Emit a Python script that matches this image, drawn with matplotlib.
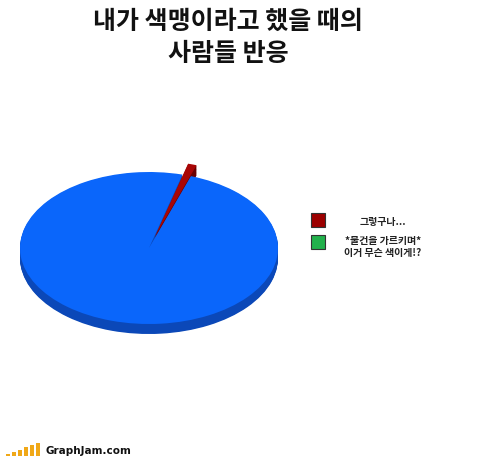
import numpy as np
import matplotlib.pyplot as plt
from matplotlib.patches import Rectangle

plt.rcParams['font.family'] = ['Noto Sans CJK KR', 'DejaVu Sans']

# data
title = "내가 색맹이라고 했을 때의\n사람들 반응"
labels = ["그렇구나...", "*물건을 가르키며*\n이거 무슨 색이게!?"]
values = [1.1, 98.9]
legend_colors = ["#9c0000", "#22b14c"]
top_colors = ["#a80606", "#0a66fb"]
side_colors = ["#6a0000", "#0b48b8"]
explode = [0.15, 0.0]

W, H = 500, 458
fig = plt.figure(figsize=(W / 100, H / 100), dpi=100)
fig.patch.set_facecolor("white")

# pie geometry in pixels
cx, cy, rx, ry, thick = 149, 248, 129, 76, 10
lim_x, lim_y = 1.15, 1.3
ax = fig.add_axes([(cx - lim_x * rx) / W, 1 - (cy + lim_y * ry) / H,
                   2 * lim_x * rx / W, 2 * lim_y * ry / H])
start = 73 - values[0] / sum(values) * 360 / 2

# side (stacked darker layers)
for d in np.linspace(thick / ry, 0, 14)[:-1]:
    ax.pie(values, colors=side_colors, explode=explode, startangle=start,
           center=(0, -d), wedgeprops=dict(linewidth=0))
ax.pie(values, colors=top_colors, explode=explode, startangle=start,
       center=(0, 0), wedgeprops=dict(linewidth=0))
ax.set_aspect("auto")
ax.set_xlim(-lim_x, lim_x)
ax.set_ylim(-lim_y, lim_y)
ax.axis("off")

# overlay axes in pixel coordinates for text
ov = fig.add_axes([0, 0, 1, 1])
ov.set_xlim(0, W)
ov.set_ylim(H, 0)
ov.axis("off")

ov.text(228, 38, title, ha="center", va="center", fontsize=18,
        fontweight="bold", linespacing=1.4, color="#111111")

# legend
for i, (lab, col) in enumerate(zip(labels, legend_colors)):
    y = 220 + i * 22
    ov.add_patch(Rectangle((311, y - 7), 14, 14, facecolor=col,
                           edgecolor="#333333", linewidth=0.8))
    ty = 222 if i == 0 else 247
    ov.text(383, ty, lab, ha="center", va="center", fontsize=7.2,
            fontweight="bold", color="#222222", linespacing=1.35)

# GraphJam logo
bar_h = [2, 4, 6, 9, 11, 13]
for k, h in enumerate(bar_h):
    ov.add_patch(Rectangle((6 + k * 6, 456 - h), 3.5, h,
                           facecolor="#f0a818", edgecolor="none"))
ov.text(45, 451, "GraphJam.com", ha="left", va="center", fontsize=7.5,
        fontweight="bold", color="#111111", family="DejaVu Sans")

fig.savefig("out.png", dpi=100, facecolor="white")
